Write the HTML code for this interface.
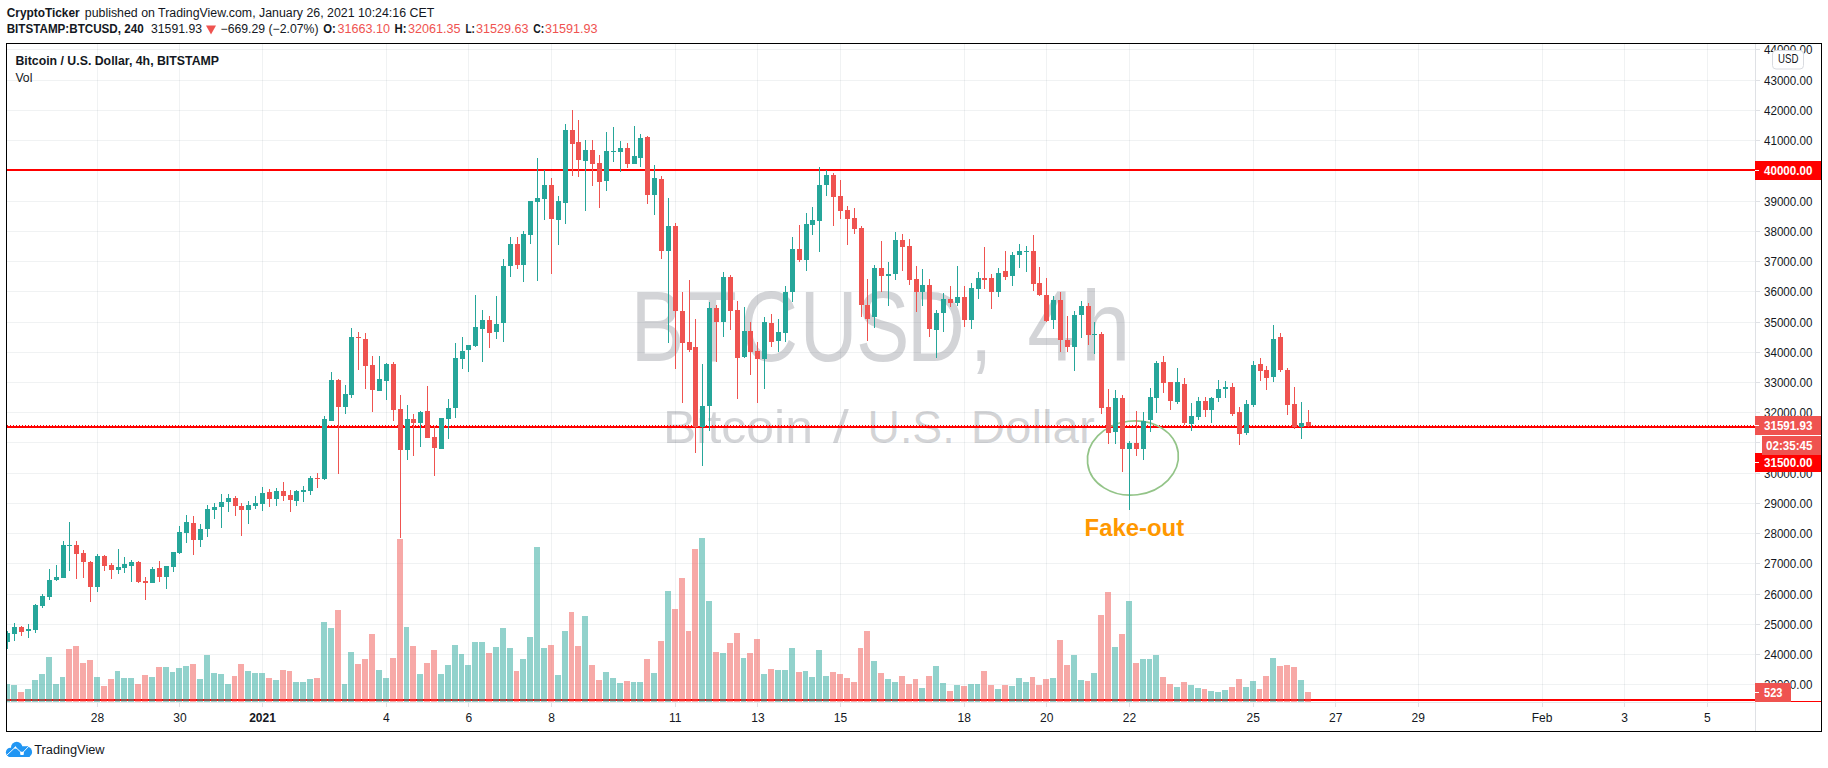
<!DOCTYPE html><html><head><meta charset="utf-8"><title>BTCUSD chart</title><style>html,body{margin:0;padding:0;background:#fff}svg{display:block}text{font-family:"Liberation Sans",sans-serif}</style></head><body>
<svg width="1828" height="768" viewBox="0 0 1828 768">
<rect width="1828" height="768" fill="#fff"/>
<g stroke="#1e3a46" stroke-opacity="0.065" stroke-width="1" shape-rendering="crispEdges">
<line x1="7" y1="684.5" x2="1755.5" y2="684.5"/>
<line x1="7" y1="654.5" x2="1755.5" y2="654.5"/>
<line x1="7" y1="624.5" x2="1755.5" y2="624.5"/>
<line x1="7" y1="594.5" x2="1755.5" y2="594.5"/>
<line x1="7" y1="563.5" x2="1755.5" y2="563.5"/>
<line x1="7" y1="533.5" x2="1755.5" y2="533.5"/>
<line x1="7" y1="503.5" x2="1755.5" y2="503.5"/>
<line x1="7" y1="473.5" x2="1755.5" y2="473.5"/>
<line x1="7" y1="442.5" x2="1755.5" y2="442.5"/>
<line x1="7" y1="412.5" x2="1755.5" y2="412.5"/>
<line x1="7" y1="382.5" x2="1755.5" y2="382.5"/>
<line x1="7" y1="352.5" x2="1755.5" y2="352.5"/>
<line x1="7" y1="322.5" x2="1755.5" y2="322.5"/>
<line x1="7" y1="291.5" x2="1755.5" y2="291.5"/>
<line x1="7" y1="261.5" x2="1755.5" y2="261.5"/>
<line x1="7" y1="231.5" x2="1755.5" y2="231.5"/>
<line x1="7" y1="201.5" x2="1755.5" y2="201.5"/>
<line x1="7" y1="170.5" x2="1755.5" y2="170.5"/>
<line x1="7" y1="140.5" x2="1755.5" y2="140.5"/>
<line x1="7" y1="110.5" x2="1755.5" y2="110.5"/>
<line x1="7" y1="80.5" x2="1755.5" y2="80.5"/>
<line x1="7" y1="49.5" x2="1755.5" y2="49.5"/>
<line x1="97.5" y1="44" x2="97.5" y2="703"/>
<line x1="179.5" y1="44" x2="179.5" y2="703"/>
<line x1="262.5" y1="44" x2="262.5" y2="703"/>
<line x1="386.5" y1="44" x2="386.5" y2="703"/>
<line x1="468.5" y1="44" x2="468.5" y2="703"/>
<line x1="551.5" y1="44" x2="551.5" y2="703"/>
<line x1="675.5" y1="44" x2="675.5" y2="703"/>
<line x1="757.5" y1="44" x2="757.5" y2="703"/>
<line x1="840.5" y1="44" x2="840.5" y2="703"/>
<line x1="964.5" y1="44" x2="964.5" y2="703"/>
<line x1="1046.5" y1="44" x2="1046.5" y2="703"/>
<line x1="1129.5" y1="44" x2="1129.5" y2="703"/>
<line x1="1253.5" y1="44" x2="1253.5" y2="703"/>
<line x1="1335.5" y1="44" x2="1335.5" y2="703"/>
<line x1="1418.5" y1="44" x2="1418.5" y2="703"/>
<line x1="1542.5" y1="44" x2="1542.5" y2="703"/>
<line x1="1624.5" y1="44" x2="1624.5" y2="703"/>
<line x1="1707.5" y1="44" x2="1707.5" y2="703"/>
</g>
<g fill="#50535e" fill-opacity="0.25">
<text transform="scale(0.8,1)" x="788.3 859.9 925.2 999.8 1070.1 1133.7 1212.6" y="360.8" font-size="100">BTCUSD,</text>
<text transform="scale(0.89,1)" x="1154.1 1214.6" y="360.8" font-size="100">4h</text>
<text x="663" y="443.3" font-size="46.5" textLength="150" lengthAdjust="spacingAndGlyphs">Bitcoin</text>
<text x="833" y="443.3" font-size="46.5" textLength="15.8" lengthAdjust="spacingAndGlyphs">/</text>
<text x="867.5" y="443.3" font-size="46.5" textLength="87.2" lengthAdjust="spacingAndGlyphs">U.S.</text>
<text x="970.7" y="443.3" font-size="46.5" textLength="124.1" lengthAdjust="spacingAndGlyphs">Dollar</text>
</g>
<rect x="7" y="699" width="1748.5" height="2" fill="#ff0000" shape-rendering="crispEdges"/>
<rect x="1755.5" y="701" width="66.5" height="1" fill="#ff0000" shape-rendering="crispEdges"/>
<g shape-rendering="crispEdges" fill-opacity="0.5">
<rect x="7" y="684" width="3" height="18" fill="#26a69a"/>
<rect x="11" y="685" width="6" height="17" fill="#26a69a"/>
<rect x="18" y="692" width="6" height="10" fill="#ef5350"/>
<rect x="25" y="689" width="6" height="13" fill="#26a69a"/>
<rect x="32" y="680" width="6" height="22" fill="#26a69a"/>
<rect x="39" y="674" width="6" height="28" fill="#26a69a"/>
<rect x="46" y="657" width="6" height="45" fill="#26a69a"/>
<rect x="53" y="684" width="6" height="18" fill="#26a69a"/>
<rect x="60" y="677" width="5" height="25" fill="#26a69a"/>
<rect x="66" y="649" width="6" height="53" fill="#ef5350"/>
<rect x="73" y="646" width="6" height="56" fill="#ef5350"/>
<rect x="80" y="663" width="6" height="39" fill="#ef5350"/>
<rect x="87" y="660" width="6" height="42" fill="#ef5350"/>
<rect x="94" y="677" width="6" height="25" fill="#26a69a"/>
<rect x="101" y="686" width="6" height="16" fill="#ef5350"/>
<rect x="108" y="679" width="6" height="23" fill="#ef5350"/>
<rect x="115" y="671" width="5" height="31" fill="#26a69a"/>
<rect x="121" y="678" width="6" height="24" fill="#26a69a"/>
<rect x="128" y="678" width="6" height="24" fill="#26a69a"/>
<rect x="135" y="684" width="6" height="18" fill="#ef5350"/>
<rect x="142" y="675" width="6" height="27" fill="#ef5350"/>
<rect x="149" y="677" width="6" height="25" fill="#26a69a"/>
<rect x="156" y="667" width="6" height="35" fill="#ef5350"/>
<rect x="163" y="667" width="6" height="35" fill="#26a69a"/>
<rect x="170" y="672" width="5" height="30" fill="#26a69a"/>
<rect x="176" y="668" width="6" height="34" fill="#26a69a"/>
<rect x="183" y="666" width="6" height="36" fill="#26a69a"/>
<rect x="190" y="664" width="6" height="38" fill="#ef5350"/>
<rect x="197" y="679" width="6" height="23" fill="#26a69a"/>
<rect x="204" y="655" width="6" height="47" fill="#26a69a"/>
<rect x="211" y="673" width="6" height="29" fill="#26a69a"/>
<rect x="218" y="674" width="6" height="28" fill="#26a69a"/>
<rect x="225" y="684" width="6" height="18" fill="#26a69a"/>
<rect x="232" y="676" width="5" height="26" fill="#ef5350"/>
<rect x="238" y="664" width="6" height="38" fill="#ef5350"/>
<rect x="245" y="671" width="6" height="31" fill="#26a69a"/>
<rect x="252" y="673" width="6" height="29" fill="#26a69a"/>
<rect x="259" y="673" width="6" height="29" fill="#26a69a"/>
<rect x="266" y="678" width="6" height="24" fill="#ef5350"/>
<rect x="273" y="680" width="6" height="22" fill="#26a69a"/>
<rect x="280" y="670" width="6" height="32" fill="#ef5350"/>
<rect x="287" y="671" width="5" height="31" fill="#ef5350"/>
<rect x="293" y="682" width="6" height="20" fill="#26a69a"/>
<rect x="300" y="682" width="6" height="20" fill="#26a69a"/>
<rect x="307" y="679" width="6" height="23" fill="#26a69a"/>
<rect x="314" y="678" width="6" height="24" fill="#ef5350"/>
<rect x="321" y="622" width="6" height="80" fill="#26a69a"/>
<rect x="328" y="628" width="6" height="74" fill="#26a69a"/>
<rect x="335" y="610" width="6" height="92" fill="#ef5350"/>
<rect x="342" y="684" width="5" height="18" fill="#26a69a"/>
<rect x="348" y="652" width="6" height="50" fill="#26a69a"/>
<rect x="355" y="664" width="6" height="38" fill="#ef5350"/>
<rect x="362" y="659" width="6" height="43" fill="#ef5350"/>
<rect x="369" y="634" width="6" height="68" fill="#ef5350"/>
<rect x="376" y="670" width="6" height="32" fill="#26a69a"/>
<rect x="383" y="678" width="6" height="24" fill="#26a69a"/>
<rect x="390" y="658" width="6" height="44" fill="#ef5350"/>
<rect x="397" y="539" width="6" height="163" fill="#ef5350"/>
<rect x="404" y="627" width="5" height="75" fill="#26a69a"/>
<rect x="410" y="646" width="6" height="56" fill="#ef5350"/>
<rect x="417" y="674" width="6" height="28" fill="#26a69a"/>
<rect x="424" y="663" width="6" height="39" fill="#ef5350"/>
<rect x="431" y="650" width="6" height="52" fill="#ef5350"/>
<rect x="438" y="674" width="6" height="28" fill="#26a69a"/>
<rect x="445" y="665" width="6" height="37" fill="#26a69a"/>
<rect x="452" y="645" width="6" height="57" fill="#26a69a"/>
<rect x="459" y="654" width="5" height="48" fill="#26a69a"/>
<rect x="465" y="665" width="6" height="37" fill="#26a69a"/>
<rect x="472" y="642" width="6" height="60" fill="#26a69a"/>
<rect x="479" y="642" width="6" height="60" fill="#26a69a"/>
<rect x="486" y="653" width="6" height="49" fill="#ef5350"/>
<rect x="493" y="647" width="6" height="55" fill="#26a69a"/>
<rect x="500" y="628" width="6" height="74" fill="#26a69a"/>
<rect x="507" y="648" width="6" height="54" fill="#26a69a"/>
<rect x="514" y="671" width="5" height="31" fill="#ef5350"/>
<rect x="520" y="659" width="6" height="43" fill="#26a69a"/>
<rect x="527" y="637" width="6" height="65" fill="#26a69a"/>
<rect x="534" y="547" width="6" height="155" fill="#26a69a"/>
<rect x="541" y="648" width="6" height="54" fill="#26a69a"/>
<rect x="548" y="645" width="6" height="57" fill="#ef5350"/>
<rect x="555" y="675" width="6" height="27" fill="#26a69a"/>
<rect x="562" y="631" width="6" height="71" fill="#26a69a"/>
<rect x="569" y="612" width="5" height="90" fill="#ef5350"/>
<rect x="575" y="646" width="6" height="56" fill="#ef5350"/>
<rect x="582" y="616" width="6" height="86" fill="#26a69a"/>
<rect x="589" y="665" width="6" height="37" fill="#ef5350"/>
<rect x="596" y="680" width="6" height="22" fill="#ef5350"/>
<rect x="603" y="672" width="6" height="30" fill="#26a69a"/>
<rect x="610" y="678" width="6" height="24" fill="#26a69a"/>
<rect x="617" y="683" width="6" height="19" fill="#26a69a"/>
<rect x="624" y="681" width="6" height="21" fill="#ef5350"/>
<rect x="631" y="682" width="5" height="20" fill="#26a69a"/>
<rect x="637" y="682" width="6" height="20" fill="#26a69a"/>
<rect x="644" y="659" width="6" height="43" fill="#ef5350"/>
<rect x="651" y="673" width="6" height="29" fill="#26a69a"/>
<rect x="658" y="641" width="6" height="61" fill="#ef5350"/>
<rect x="665" y="591" width="6" height="111" fill="#26a69a"/>
<rect x="672" y="609" width="6" height="93" fill="#ef5350"/>
<rect x="679" y="578" width="6" height="124" fill="#ef5350"/>
<rect x="686" y="631" width="5" height="71" fill="#ef5350"/>
<rect x="692" y="549" width="6" height="153" fill="#ef5350"/>
<rect x="699" y="538" width="6" height="164" fill="#26a69a"/>
<rect x="706" y="601" width="6" height="101" fill="#26a69a"/>
<rect x="713" y="652" width="6" height="50" fill="#ef5350"/>
<rect x="720" y="653" width="6" height="49" fill="#26a69a"/>
<rect x="727" y="643" width="6" height="59" fill="#ef5350"/>
<rect x="734" y="633" width="6" height="69" fill="#ef5350"/>
<rect x="741" y="658" width="5" height="44" fill="#26a69a"/>
<rect x="747" y="653" width="6" height="49" fill="#ef5350"/>
<rect x="754" y="639" width="6" height="63" fill="#ef5350"/>
<rect x="761" y="674" width="6" height="28" fill="#26a69a"/>
<rect x="768" y="669" width="6" height="33" fill="#ef5350"/>
<rect x="775" y="670" width="6" height="32" fill="#26a69a"/>
<rect x="782" y="670" width="6" height="32" fill="#26a69a"/>
<rect x="789" y="648" width="6" height="54" fill="#26a69a"/>
<rect x="796" y="672" width="6" height="30" fill="#ef5350"/>
<rect x="803" y="671" width="5" height="31" fill="#26a69a"/>
<rect x="809" y="677" width="6" height="25" fill="#26a69a"/>
<rect x="816" y="650" width="6" height="52" fill="#26a69a"/>
<rect x="823" y="676" width="6" height="26" fill="#26a69a"/>
<rect x="830" y="672" width="6" height="30" fill="#ef5350"/>
<rect x="837" y="674" width="6" height="28" fill="#ef5350"/>
<rect x="844" y="678" width="6" height="24" fill="#ef5350"/>
<rect x="851" y="682" width="6" height="20" fill="#ef5350"/>
<rect x="858" y="648" width="5" height="54" fill="#ef5350"/>
<rect x="864" y="631" width="6" height="71" fill="#ef5350"/>
<rect x="871" y="661" width="6" height="41" fill="#26a69a"/>
<rect x="878" y="673" width="6" height="29" fill="#ef5350"/>
<rect x="885" y="679" width="6" height="23" fill="#26a69a"/>
<rect x="892" y="682" width="6" height="20" fill="#26a69a"/>
<rect x="899" y="676" width="6" height="26" fill="#ef5350"/>
<rect x="906" y="684" width="6" height="18" fill="#ef5350"/>
<rect x="913" y="679" width="5" height="23" fill="#ef5350"/>
<rect x="919" y="688" width="6" height="14" fill="#26a69a"/>
<rect x="926" y="676" width="6" height="26" fill="#ef5350"/>
<rect x="933" y="666" width="6" height="36" fill="#26a69a"/>
<rect x="940" y="683" width="6" height="19" fill="#26a69a"/>
<rect x="947" y="691" width="6" height="11" fill="#ef5350"/>
<rect x="954" y="685" width="6" height="17" fill="#26a69a"/>
<rect x="961" y="686" width="6" height="16" fill="#ef5350"/>
<rect x="968" y="684" width="6" height="18" fill="#26a69a"/>
<rect x="975" y="684" width="5" height="18" fill="#26a69a"/>
<rect x="981" y="671" width="6" height="31" fill="#ef5350"/>
<rect x="988" y="685" width="6" height="17" fill="#ef5350"/>
<rect x="995" y="689" width="6" height="13" fill="#26a69a"/>
<rect x="1002" y="685" width="6" height="17" fill="#ef5350"/>
<rect x="1009" y="686" width="6" height="16" fill="#26a69a"/>
<rect x="1016" y="678" width="6" height="24" fill="#26a69a"/>
<rect x="1023" y="682" width="6" height="20" fill="#26a69a"/>
<rect x="1030" y="677" width="5" height="25" fill="#ef5350"/>
<rect x="1036" y="685" width="6" height="17" fill="#ef5350"/>
<rect x="1043" y="679" width="6" height="23" fill="#ef5350"/>
<rect x="1050" y="678" width="6" height="24" fill="#26a69a"/>
<rect x="1057" y="640" width="6" height="62" fill="#ef5350"/>
<rect x="1064" y="665" width="6" height="37" fill="#ef5350"/>
<rect x="1071" y="655" width="6" height="47" fill="#26a69a"/>
<rect x="1078" y="680" width="6" height="22" fill="#26a69a"/>
<rect x="1085" y="681" width="5" height="21" fill="#ef5350"/>
<rect x="1091" y="673" width="6" height="29" fill="#26a69a"/>
<rect x="1098" y="615" width="6" height="87" fill="#ef5350"/>
<rect x="1105" y="592" width="6" height="110" fill="#ef5350"/>
<rect x="1112" y="647" width="6" height="55" fill="#26a69a"/>
<rect x="1119" y="634" width="6" height="68" fill="#ef5350"/>
<rect x="1126" y="601" width="6" height="101" fill="#26a69a"/>
<rect x="1133" y="663" width="6" height="39" fill="#ef5350"/>
<rect x="1140" y="659" width="6" height="43" fill="#26a69a"/>
<rect x="1147" y="659" width="5" height="43" fill="#26a69a"/>
<rect x="1153" y="655" width="6" height="47" fill="#26a69a"/>
<rect x="1160" y="677" width="6" height="25" fill="#ef5350"/>
<rect x="1167" y="684" width="6" height="18" fill="#ef5350"/>
<rect x="1174" y="687" width="6" height="15" fill="#26a69a"/>
<rect x="1181" y="682" width="6" height="20" fill="#ef5350"/>
<rect x="1188" y="685" width="6" height="17" fill="#26a69a"/>
<rect x="1195" y="688" width="6" height="14" fill="#26a69a"/>
<rect x="1202" y="689" width="5" height="13" fill="#ef5350"/>
<rect x="1208" y="691" width="6" height="11" fill="#26a69a"/>
<rect x="1215" y="692" width="6" height="10" fill="#26a69a"/>
<rect x="1222" y="690" width="6" height="12" fill="#26a69a"/>
<rect x="1229" y="687" width="6" height="15" fill="#ef5350"/>
<rect x="1236" y="679" width="6" height="23" fill="#ef5350"/>
<rect x="1243" y="687" width="6" height="15" fill="#26a69a"/>
<rect x="1250" y="681" width="6" height="21" fill="#26a69a"/>
<rect x="1257" y="689" width="5" height="13" fill="#ef5350"/>
<rect x="1263" y="676" width="6" height="26" fill="#ef5350"/>
<rect x="1270" y="658" width="6" height="44" fill="#26a69a"/>
<rect x="1277" y="666" width="6" height="36" fill="#ef5350"/>
<rect x="1284" y="665" width="6" height="37" fill="#ef5350"/>
<rect x="1291" y="667" width="6" height="35" fill="#ef5350"/>
<rect x="1298" y="680" width="6" height="22" fill="#26a69a"/>
<rect x="1305" y="692" width="6" height="10" fill="#ef5350"/>
</g>
<rect x="7" y="169" width="1748.5" height="2" fill="#ff0000" shape-rendering="crispEdges"/>
<rect x="7" y="426" width="1748.5" height="2" fill="#ff0000" shape-rendering="crispEdges"/>
<line x1="7" y1="425.5" x2="1755" y2="425.5" stroke="#ff0000" stroke-width="1" stroke-dasharray="1 2" shape-rendering="crispEdges"/>
<ellipse cx="1132.9" cy="458" rx="45.6" ry="37" fill="none" stroke="#93c488" stroke-width="1.7" transform="rotate(-7 1132.9 458)"/>
<g shape-rendering="crispEdges">
<rect x="7" y="631" width="1" height="18" fill="#26a69a"/>
<rect x="7" y="633" width="3" height="9" fill="#26a69a"/>
<rect x="14" y="623" width="1" height="18" fill="#26a69a"/>
<rect x="12" y="627" width="5" height="7" fill="#26a69a"/>
<rect x="21" y="626" width="1" height="10" fill="#ef5350"/>
<rect x="19" y="627" width="5" height="5" fill="#ef5350"/>
<rect x="28" y="624" width="1" height="14" fill="#26a69a"/>
<rect x="26" y="629" width="5" height="2" fill="#26a69a"/>
<rect x="35" y="604" width="1" height="29" fill="#26a69a"/>
<rect x="33" y="605" width="5" height="25" fill="#26a69a"/>
<rect x="42" y="594" width="1" height="14" fill="#26a69a"/>
<rect x="40" y="596" width="5" height="10" fill="#26a69a"/>
<rect x="49" y="569" width="1" height="31" fill="#26a69a"/>
<rect x="47" y="580" width="5" height="17" fill="#26a69a"/>
<rect x="56" y="565" width="1" height="16" fill="#26a69a"/>
<rect x="54" y="577" width="5" height="3" fill="#26a69a"/>
<rect x="63" y="541" width="1" height="37" fill="#26a69a"/>
<rect x="61" y="545" width="5" height="33" fill="#26a69a"/>
<rect x="69" y="522" width="1" height="49" fill="#26a69a"/>
<rect x="67" y="545" width="5" height="1" fill="#26a69a"/>
<rect x="76" y="541" width="1" height="38" fill="#ef5350"/>
<rect x="74" y="545" width="5" height="9" fill="#ef5350"/>
<rect x="83" y="550" width="1" height="28" fill="#ef5350"/>
<rect x="81" y="553" width="5" height="9" fill="#ef5350"/>
<rect x="90" y="561" width="1" height="41" fill="#ef5350"/>
<rect x="88" y="562" width="5" height="25" fill="#ef5350"/>
<rect x="97" y="554" width="1" height="38" fill="#26a69a"/>
<rect x="95" y="556" width="5" height="31" fill="#26a69a"/>
<rect x="104" y="555" width="1" height="16" fill="#ef5350"/>
<rect x="102" y="556" width="5" height="10" fill="#ef5350"/>
<rect x="111" y="563" width="1" height="16" fill="#ef5350"/>
<rect x="109" y="565" width="5" height="5" fill="#ef5350"/>
<rect x="118" y="549" width="1" height="25" fill="#26a69a"/>
<rect x="116" y="567" width="5" height="3" fill="#26a69a"/>
<rect x="124" y="557" width="1" height="16" fill="#26a69a"/>
<rect x="122" y="564" width="5" height="4" fill="#26a69a"/>
<rect x="131" y="560" width="1" height="22" fill="#26a69a"/>
<rect x="129" y="562" width="5" height="4" fill="#26a69a"/>
<rect x="138" y="561" width="1" height="22" fill="#ef5350"/>
<rect x="136" y="562" width="5" height="20" fill="#ef5350"/>
<rect x="145" y="577" width="1" height="23" fill="#ef5350"/>
<rect x="143" y="581" width="5" height="2" fill="#ef5350"/>
<rect x="152" y="567" width="1" height="16" fill="#26a69a"/>
<rect x="150" y="569" width="5" height="14" fill="#26a69a"/>
<rect x="159" y="561" width="1" height="21" fill="#ef5350"/>
<rect x="157" y="568" width="5" height="9" fill="#ef5350"/>
<rect x="166" y="566" width="1" height="23" fill="#26a69a"/>
<rect x="164" y="566" width="5" height="11" fill="#26a69a"/>
<rect x="173" y="552" width="1" height="20" fill="#26a69a"/>
<rect x="171" y="552" width="5" height="15" fill="#26a69a"/>
<rect x="179" y="526" width="1" height="28" fill="#26a69a"/>
<rect x="177" y="532" width="5" height="21" fill="#26a69a"/>
<rect x="186" y="515" width="1" height="28" fill="#26a69a"/>
<rect x="184" y="522" width="5" height="11" fill="#26a69a"/>
<rect x="193" y="516" width="1" height="39" fill="#ef5350"/>
<rect x="191" y="523" width="5" height="17" fill="#ef5350"/>
<rect x="200" y="524" width="1" height="23" fill="#26a69a"/>
<rect x="198" y="529" width="5" height="11" fill="#26a69a"/>
<rect x="207" y="505" width="1" height="32" fill="#26a69a"/>
<rect x="205" y="509" width="5" height="20" fill="#26a69a"/>
<rect x="214" y="503" width="1" height="16" fill="#26a69a"/>
<rect x="212" y="507" width="5" height="3" fill="#26a69a"/>
<rect x="221" y="494" width="1" height="34" fill="#26a69a"/>
<rect x="219" y="502" width="5" height="5" fill="#26a69a"/>
<rect x="228" y="494" width="1" height="18" fill="#26a69a"/>
<rect x="226" y="498" width="5" height="4" fill="#26a69a"/>
<rect x="235" y="496" width="1" height="20" fill="#ef5350"/>
<rect x="233" y="498" width="5" height="8" fill="#ef5350"/>
<rect x="241" y="503" width="1" height="33" fill="#ef5350"/>
<rect x="239" y="506" width="5" height="4" fill="#ef5350"/>
<rect x="248" y="501" width="1" height="23" fill="#26a69a"/>
<rect x="246" y="505" width="5" height="5" fill="#26a69a"/>
<rect x="255" y="496" width="1" height="13" fill="#26a69a"/>
<rect x="253" y="503" width="5" height="3" fill="#26a69a"/>
<rect x="262" y="487" width="1" height="24" fill="#26a69a"/>
<rect x="260" y="493" width="5" height="11" fill="#26a69a"/>
<rect x="269" y="489" width="1" height="18" fill="#ef5350"/>
<rect x="267" y="492" width="5" height="7" fill="#ef5350"/>
<rect x="276" y="488" width="1" height="18" fill="#26a69a"/>
<rect x="274" y="491" width="5" height="8" fill="#26a69a"/>
<rect x="283" y="482" width="1" height="19" fill="#ef5350"/>
<rect x="281" y="491" width="5" height="5" fill="#ef5350"/>
<rect x="290" y="490" width="1" height="22" fill="#ef5350"/>
<rect x="288" y="495" width="5" height="5" fill="#ef5350"/>
<rect x="296" y="490" width="1" height="16" fill="#26a69a"/>
<rect x="294" y="491" width="5" height="10" fill="#26a69a"/>
<rect x="303" y="486" width="1" height="16" fill="#26a69a"/>
<rect x="301" y="490" width="5" height="2" fill="#26a69a"/>
<rect x="310" y="476" width="1" height="19" fill="#26a69a"/>
<rect x="308" y="478" width="5" height="13" fill="#26a69a"/>
<rect x="317" y="473" width="1" height="15" fill="#ef5350"/>
<rect x="315" y="478" width="5" height="1" fill="#ef5350"/>
<rect x="324" y="416" width="1" height="64" fill="#26a69a"/>
<rect x="322" y="419" width="5" height="60" fill="#26a69a"/>
<rect x="331" y="372" width="1" height="49" fill="#26a69a"/>
<rect x="329" y="380" width="5" height="41" fill="#26a69a"/>
<rect x="338" y="379" width="1" height="95" fill="#ef5350"/>
<rect x="336" y="380" width="5" height="27" fill="#ef5350"/>
<rect x="345" y="385" width="1" height="29" fill="#26a69a"/>
<rect x="343" y="394" width="5" height="13" fill="#26a69a"/>
<rect x="351" y="328" width="1" height="70" fill="#26a69a"/>
<rect x="349" y="337" width="5" height="58" fill="#26a69a"/>
<rect x="358" y="332" width="1" height="38" fill="#ef5350"/>
<rect x="356" y="337" width="5" height="1" fill="#ef5350"/>
<rect x="365" y="333" width="1" height="56" fill="#ef5350"/>
<rect x="363" y="339" width="5" height="27" fill="#ef5350"/>
<rect x="372" y="356" width="1" height="56" fill="#ef5350"/>
<rect x="370" y="365" width="5" height="25" fill="#ef5350"/>
<rect x="379" y="356" width="1" height="35" fill="#26a69a"/>
<rect x="377" y="379" width="5" height="12" fill="#26a69a"/>
<rect x="386" y="363" width="1" height="37" fill="#26a69a"/>
<rect x="384" y="364" width="5" height="17" fill="#26a69a"/>
<rect x="393" y="362" width="1" height="59" fill="#ef5350"/>
<rect x="391" y="364" width="5" height="46" fill="#ef5350"/>
<rect x="400" y="395" width="1" height="143" fill="#ef5350"/>
<rect x="398" y="409" width="5" height="41" fill="#ef5350"/>
<rect x="407" y="405" width="1" height="55" fill="#26a69a"/>
<rect x="405" y="419" width="5" height="31" fill="#26a69a"/>
<rect x="413" y="414" width="1" height="42" fill="#ef5350"/>
<rect x="411" y="419" width="5" height="4" fill="#ef5350"/>
<rect x="420" y="411" width="1" height="36" fill="#26a69a"/>
<rect x="418" y="412" width="5" height="11" fill="#26a69a"/>
<rect x="427" y="386" width="1" height="52" fill="#ef5350"/>
<rect x="425" y="411" width="5" height="27" fill="#ef5350"/>
<rect x="434" y="426" width="1" height="50" fill="#ef5350"/>
<rect x="432" y="437" width="5" height="11" fill="#ef5350"/>
<rect x="441" y="418" width="1" height="31" fill="#26a69a"/>
<rect x="439" y="418" width="5" height="31" fill="#26a69a"/>
<rect x="448" y="399" width="1" height="40" fill="#26a69a"/>
<rect x="446" y="408" width="5" height="11" fill="#26a69a"/>
<rect x="455" y="343" width="1" height="75" fill="#26a69a"/>
<rect x="453" y="358" width="5" height="50" fill="#26a69a"/>
<rect x="462" y="337" width="1" height="32" fill="#26a69a"/>
<rect x="460" y="351" width="5" height="8" fill="#26a69a"/>
<rect x="468" y="345" width="1" height="27" fill="#26a69a"/>
<rect x="466" y="345" width="5" height="5" fill="#26a69a"/>
<rect x="475" y="295" width="1" height="52" fill="#26a69a"/>
<rect x="473" y="327" width="5" height="19" fill="#26a69a"/>
<rect x="482" y="310" width="1" height="52" fill="#26a69a"/>
<rect x="480" y="320" width="5" height="9" fill="#26a69a"/>
<rect x="489" y="316" width="1" height="32" fill="#ef5350"/>
<rect x="487" y="320" width="5" height="13" fill="#ef5350"/>
<rect x="496" y="296" width="1" height="43" fill="#26a69a"/>
<rect x="494" y="324" width="5" height="8" fill="#26a69a"/>
<rect x="503" y="259" width="1" height="83" fill="#26a69a"/>
<rect x="501" y="266" width="5" height="57" fill="#26a69a"/>
<rect x="510" y="237" width="1" height="40" fill="#26a69a"/>
<rect x="508" y="244" width="5" height="22" fill="#26a69a"/>
<rect x="517" y="237" width="1" height="32" fill="#ef5350"/>
<rect x="515" y="244" width="5" height="21" fill="#ef5350"/>
<rect x="523" y="231" width="1" height="51" fill="#26a69a"/>
<rect x="521" y="234" width="5" height="31" fill="#26a69a"/>
<rect x="530" y="201" width="1" height="43" fill="#26a69a"/>
<rect x="528" y="201" width="5" height="34" fill="#26a69a"/>
<rect x="537" y="158" width="1" height="123" fill="#26a69a"/>
<rect x="535" y="198" width="5" height="4" fill="#26a69a"/>
<rect x="544" y="170" width="1" height="50" fill="#26a69a"/>
<rect x="542" y="185" width="5" height="14" fill="#26a69a"/>
<rect x="551" y="178" width="1" height="96" fill="#ef5350"/>
<rect x="549" y="185" width="5" height="34" fill="#ef5350"/>
<rect x="558" y="196" width="1" height="49" fill="#26a69a"/>
<rect x="556" y="201" width="5" height="19" fill="#26a69a"/>
<rect x="565" y="124" width="1" height="100" fill="#26a69a"/>
<rect x="563" y="130" width="5" height="73" fill="#26a69a"/>
<rect x="572" y="110" width="1" height="66" fill="#ef5350"/>
<rect x="570" y="130" width="5" height="14" fill="#ef5350"/>
<rect x="578" y="120" width="1" height="57" fill="#ef5350"/>
<rect x="576" y="142" width="5" height="18" fill="#ef5350"/>
<rect x="585" y="140" width="1" height="71" fill="#26a69a"/>
<rect x="583" y="150" width="5" height="11" fill="#26a69a"/>
<rect x="592" y="140" width="1" height="46" fill="#ef5350"/>
<rect x="590" y="150" width="5" height="14" fill="#ef5350"/>
<rect x="599" y="155" width="1" height="53" fill="#ef5350"/>
<rect x="597" y="163" width="5" height="19" fill="#ef5350"/>
<rect x="606" y="132" width="1" height="59" fill="#26a69a"/>
<rect x="604" y="151" width="5" height="30" fill="#26a69a"/>
<rect x="613" y="127" width="1" height="35" fill="#26a69a"/>
<rect x="611" y="151" width="5" height="1" fill="#26a69a"/>
<rect x="620" y="141" width="1" height="31" fill="#26a69a"/>
<rect x="618" y="148" width="5" height="4" fill="#26a69a"/>
<rect x="627" y="143" width="1" height="25" fill="#ef5350"/>
<rect x="625" y="148" width="5" height="16" fill="#ef5350"/>
<rect x="634" y="126" width="1" height="38" fill="#26a69a"/>
<rect x="632" y="156" width="5" height="8" fill="#26a69a"/>
<rect x="640" y="134" width="1" height="33" fill="#26a69a"/>
<rect x="638" y="138" width="5" height="20" fill="#26a69a"/>
<rect x="647" y="136" width="1" height="68" fill="#ef5350"/>
<rect x="645" y="137" width="5" height="58" fill="#ef5350"/>
<rect x="654" y="165" width="1" height="50" fill="#26a69a"/>
<rect x="652" y="178" width="5" height="17" fill="#26a69a"/>
<rect x="661" y="176" width="1" height="83" fill="#ef5350"/>
<rect x="659" y="179" width="5" height="72" fill="#ef5350"/>
<rect x="668" y="198" width="1" height="145" fill="#26a69a"/>
<rect x="666" y="226" width="5" height="25" fill="#26a69a"/>
<rect x="675" y="223" width="1" height="146" fill="#ef5350"/>
<rect x="673" y="226" width="5" height="85" fill="#ef5350"/>
<rect x="682" y="292" width="1" height="111" fill="#ef5350"/>
<rect x="680" y="311" width="5" height="32" fill="#ef5350"/>
<rect x="689" y="280" width="1" height="72" fill="#ef5350"/>
<rect x="687" y="342" width="5" height="8" fill="#ef5350"/>
<rect x="695" y="319" width="1" height="134" fill="#ef5350"/>
<rect x="693" y="347" width="5" height="80" fill="#ef5350"/>
<rect x="702" y="364" width="1" height="102" fill="#26a69a"/>
<rect x="700" y="406" width="5" height="21" fill="#26a69a"/>
<rect x="709" y="302" width="1" height="129" fill="#26a69a"/>
<rect x="707" y="308" width="5" height="98" fill="#26a69a"/>
<rect x="716" y="305" width="1" height="57" fill="#ef5350"/>
<rect x="714" y="308" width="5" height="14" fill="#ef5350"/>
<rect x="723" y="272" width="1" height="65" fill="#26a69a"/>
<rect x="721" y="277" width="5" height="45" fill="#26a69a"/>
<rect x="730" y="275" width="1" height="55" fill="#ef5350"/>
<rect x="728" y="277" width="5" height="34" fill="#ef5350"/>
<rect x="737" y="301" width="1" height="98" fill="#ef5350"/>
<rect x="735" y="310" width="5" height="48" fill="#ef5350"/>
<rect x="744" y="307" width="1" height="51" fill="#26a69a"/>
<rect x="742" y="331" width="5" height="26" fill="#26a69a"/>
<rect x="750" y="322" width="1" height="53" fill="#ef5350"/>
<rect x="748" y="331" width="5" height="21" fill="#ef5350"/>
<rect x="757" y="342" width="1" height="61" fill="#ef5350"/>
<rect x="755" y="351" width="5" height="8" fill="#ef5350"/>
<rect x="764" y="317" width="1" height="72" fill="#26a69a"/>
<rect x="762" y="322" width="5" height="37" fill="#26a69a"/>
<rect x="771" y="314" width="1" height="33" fill="#ef5350"/>
<rect x="769" y="323" width="5" height="19" fill="#ef5350"/>
<rect x="778" y="319" width="1" height="33" fill="#26a69a"/>
<rect x="776" y="332" width="5" height="9" fill="#26a69a"/>
<rect x="785" y="286" width="1" height="56" fill="#26a69a"/>
<rect x="783" y="292" width="5" height="41" fill="#26a69a"/>
<rect x="792" y="237" width="1" height="65" fill="#26a69a"/>
<rect x="790" y="249" width="5" height="43" fill="#26a69a"/>
<rect x="799" y="225" width="1" height="37" fill="#ef5350"/>
<rect x="797" y="249" width="5" height="11" fill="#ef5350"/>
<rect x="806" y="213" width="1" height="58" fill="#26a69a"/>
<rect x="804" y="224" width="5" height="36" fill="#26a69a"/>
<rect x="812" y="207" width="1" height="28" fill="#26a69a"/>
<rect x="810" y="220" width="5" height="5" fill="#26a69a"/>
<rect x="819" y="167" width="1" height="85" fill="#26a69a"/>
<rect x="817" y="185" width="5" height="36" fill="#26a69a"/>
<rect x="826" y="170" width="1" height="26" fill="#26a69a"/>
<rect x="824" y="175" width="5" height="10" fill="#26a69a"/>
<rect x="833" y="173" width="1" height="53" fill="#ef5350"/>
<rect x="831" y="175" width="5" height="22" fill="#ef5350"/>
<rect x="840" y="180" width="1" height="39" fill="#ef5350"/>
<rect x="838" y="196" width="5" height="15" fill="#ef5350"/>
<rect x="847" y="206" width="1" height="39" fill="#ef5350"/>
<rect x="845" y="210" width="5" height="9" fill="#ef5350"/>
<rect x="854" y="208" width="1" height="26" fill="#ef5350"/>
<rect x="852" y="218" width="5" height="11" fill="#ef5350"/>
<rect x="861" y="226" width="1" height="91" fill="#ef5350"/>
<rect x="859" y="228" width="5" height="77" fill="#ef5350"/>
<rect x="867" y="279" width="1" height="62" fill="#ef5350"/>
<rect x="865" y="305" width="5" height="14" fill="#ef5350"/>
<rect x="874" y="265" width="1" height="63" fill="#26a69a"/>
<rect x="872" y="268" width="5" height="49" fill="#26a69a"/>
<rect x="881" y="241" width="1" height="51" fill="#ef5350"/>
<rect x="879" y="268" width="5" height="8" fill="#ef5350"/>
<rect x="888" y="262" width="1" height="44" fill="#26a69a"/>
<rect x="886" y="274" width="5" height="2" fill="#26a69a"/>
<rect x="895" y="232" width="1" height="48" fill="#26a69a"/>
<rect x="893" y="240" width="5" height="34" fill="#26a69a"/>
<rect x="902" y="234" width="1" height="37" fill="#ef5350"/>
<rect x="900" y="240" width="5" height="7" fill="#ef5350"/>
<rect x="909" y="239" width="1" height="46" fill="#ef5350"/>
<rect x="907" y="246" width="5" height="34" fill="#ef5350"/>
<rect x="916" y="266" width="1" height="46" fill="#ef5350"/>
<rect x="914" y="279" width="5" height="13" fill="#ef5350"/>
<rect x="922" y="269" width="1" height="37" fill="#26a69a"/>
<rect x="920" y="285" width="5" height="7" fill="#26a69a"/>
<rect x="929" y="279" width="1" height="58" fill="#ef5350"/>
<rect x="927" y="285" width="5" height="44" fill="#ef5350"/>
<rect x="936" y="310" width="1" height="48" fill="#26a69a"/>
<rect x="934" y="313" width="5" height="17" fill="#26a69a"/>
<rect x="943" y="293" width="1" height="39" fill="#26a69a"/>
<rect x="941" y="299" width="5" height="14" fill="#26a69a"/>
<rect x="950" y="286" width="1" height="21" fill="#ef5350"/>
<rect x="948" y="299" width="5" height="4" fill="#ef5350"/>
<rect x="957" y="266" width="1" height="40" fill="#26a69a"/>
<rect x="955" y="297" width="5" height="6" fill="#26a69a"/>
<rect x="964" y="286" width="1" height="41" fill="#ef5350"/>
<rect x="962" y="297" width="5" height="23" fill="#ef5350"/>
<rect x="971" y="283" width="1" height="46" fill="#26a69a"/>
<rect x="969" y="288" width="5" height="32" fill="#26a69a"/>
<rect x="978" y="272" width="1" height="27" fill="#26a69a"/>
<rect x="976" y="278" width="5" height="11" fill="#26a69a"/>
<rect x="984" y="247" width="1" height="42" fill="#ef5350"/>
<rect x="982" y="278" width="5" height="2" fill="#ef5350"/>
<rect x="991" y="274" width="1" height="35" fill="#ef5350"/>
<rect x="989" y="278" width="5" height="14" fill="#ef5350"/>
<rect x="998" y="268" width="1" height="29" fill="#26a69a"/>
<rect x="996" y="273" width="5" height="19" fill="#26a69a"/>
<rect x="1005" y="251" width="1" height="29" fill="#ef5350"/>
<rect x="1003" y="271" width="5" height="6" fill="#ef5350"/>
<rect x="1012" y="252" width="1" height="34" fill="#26a69a"/>
<rect x="1010" y="255" width="5" height="21" fill="#26a69a"/>
<rect x="1019" y="244" width="1" height="24" fill="#26a69a"/>
<rect x="1017" y="251" width="5" height="4" fill="#26a69a"/>
<rect x="1026" y="246" width="1" height="26" fill="#26a69a"/>
<rect x="1024" y="251" width="5" height="1" fill="#26a69a"/>
<rect x="1033" y="235" width="1" height="56" fill="#ef5350"/>
<rect x="1031" y="251" width="5" height="33" fill="#ef5350"/>
<rect x="1039" y="267" width="1" height="29" fill="#ef5350"/>
<rect x="1037" y="283" width="5" height="12" fill="#ef5350"/>
<rect x="1046" y="278" width="1" height="44" fill="#ef5350"/>
<rect x="1044" y="295" width="5" height="26" fill="#ef5350"/>
<rect x="1053" y="296" width="1" height="33" fill="#26a69a"/>
<rect x="1051" y="300" width="5" height="20" fill="#26a69a"/>
<rect x="1060" y="292" width="1" height="60" fill="#ef5350"/>
<rect x="1058" y="300" width="5" height="40" fill="#ef5350"/>
<rect x="1067" y="316" width="1" height="36" fill="#ef5350"/>
<rect x="1065" y="340" width="5" height="7" fill="#ef5350"/>
<rect x="1074" y="311" width="1" height="60" fill="#26a69a"/>
<rect x="1072" y="315" width="5" height="32" fill="#26a69a"/>
<rect x="1081" y="301" width="1" height="37" fill="#26a69a"/>
<rect x="1079" y="306" width="5" height="9" fill="#26a69a"/>
<rect x="1088" y="303" width="1" height="42" fill="#ef5350"/>
<rect x="1086" y="306" width="5" height="29" fill="#ef5350"/>
<rect x="1094" y="322" width="1" height="32" fill="#26a69a"/>
<rect x="1092" y="334" width="5" height="1" fill="#26a69a"/>
<rect x="1101" y="332" width="1" height="82" fill="#ef5350"/>
<rect x="1099" y="334" width="5" height="74" fill="#ef5350"/>
<rect x="1108" y="389" width="1" height="55" fill="#ef5350"/>
<rect x="1106" y="407" width="5" height="26" fill="#ef5350"/>
<rect x="1115" y="390" width="1" height="54" fill="#26a69a"/>
<rect x="1113" y="398" width="5" height="34" fill="#26a69a"/>
<rect x="1122" y="395" width="1" height="77" fill="#ef5350"/>
<rect x="1120" y="398" width="5" height="51" fill="#ef5350"/>
<rect x="1129" y="441" width="1" height="69" fill="#26a69a"/>
<rect x="1127" y="443" width="5" height="6" fill="#26a69a"/>
<rect x="1136" y="411" width="1" height="45" fill="#ef5350"/>
<rect x="1134" y="443" width="5" height="6" fill="#ef5350"/>
<rect x="1143" y="412" width="1" height="48" fill="#26a69a"/>
<rect x="1141" y="421" width="5" height="28" fill="#26a69a"/>
<rect x="1150" y="388" width="1" height="44" fill="#26a69a"/>
<rect x="1148" y="397" width="5" height="23" fill="#26a69a"/>
<rect x="1156" y="361" width="1" height="52" fill="#26a69a"/>
<rect x="1154" y="363" width="5" height="35" fill="#26a69a"/>
<rect x="1163" y="356" width="1" height="37" fill="#ef5350"/>
<rect x="1161" y="362" width="5" height="21" fill="#ef5350"/>
<rect x="1170" y="382" width="1" height="28" fill="#ef5350"/>
<rect x="1168" y="382" width="5" height="19" fill="#ef5350"/>
<rect x="1177" y="368" width="1" height="36" fill="#26a69a"/>
<rect x="1175" y="382" width="5" height="20" fill="#26a69a"/>
<rect x="1184" y="378" width="1" height="47" fill="#ef5350"/>
<rect x="1182" y="384" width="5" height="39" fill="#ef5350"/>
<rect x="1191" y="403" width="1" height="28" fill="#26a69a"/>
<rect x="1189" y="416" width="5" height="8" fill="#26a69a"/>
<rect x="1198" y="397" width="1" height="23" fill="#26a69a"/>
<rect x="1196" y="401" width="5" height="16" fill="#26a69a"/>
<rect x="1205" y="397" width="1" height="20" fill="#ef5350"/>
<rect x="1203" y="401" width="5" height="9" fill="#ef5350"/>
<rect x="1211" y="397" width="1" height="26" fill="#26a69a"/>
<rect x="1209" y="398" width="5" height="12" fill="#26a69a"/>
<rect x="1218" y="380" width="1" height="22" fill="#26a69a"/>
<rect x="1216" y="389" width="5" height="9" fill="#26a69a"/>
<rect x="1225" y="381" width="1" height="17" fill="#26a69a"/>
<rect x="1223" y="387" width="5" height="2" fill="#26a69a"/>
<rect x="1232" y="383" width="1" height="33" fill="#ef5350"/>
<rect x="1230" y="387" width="5" height="27" fill="#ef5350"/>
<rect x="1239" y="407" width="1" height="38" fill="#ef5350"/>
<rect x="1237" y="412" width="5" height="22" fill="#ef5350"/>
<rect x="1246" y="400" width="1" height="35" fill="#26a69a"/>
<rect x="1244" y="404" width="5" height="29" fill="#26a69a"/>
<rect x="1253" y="361" width="1" height="46" fill="#26a69a"/>
<rect x="1251" y="365" width="5" height="40" fill="#26a69a"/>
<rect x="1260" y="358" width="1" height="23" fill="#ef5350"/>
<rect x="1258" y="364" width="5" height="7" fill="#ef5350"/>
<rect x="1266" y="366" width="1" height="24" fill="#ef5350"/>
<rect x="1264" y="370" width="5" height="8" fill="#ef5350"/>
<rect x="1273" y="325" width="1" height="57" fill="#26a69a"/>
<rect x="1271" y="339" width="5" height="38" fill="#26a69a"/>
<rect x="1280" y="333" width="1" height="39" fill="#ef5350"/>
<rect x="1278" y="337" width="5" height="33" fill="#ef5350"/>
<rect x="1287" y="368" width="1" height="47" fill="#ef5350"/>
<rect x="1285" y="370" width="5" height="35" fill="#ef5350"/>
<rect x="1294" y="387" width="1" height="42" fill="#ef5350"/>
<rect x="1292" y="404" width="5" height="23" fill="#ef5350"/>
<rect x="1301" y="402" width="1" height="37" fill="#26a69a"/>
<rect x="1299" y="423" width="5" height="4" fill="#26a69a"/>
<rect x="1308" y="410" width="1" height="17" fill="#ef5350"/>
<rect x="1306" y="422" width="5" height="4" fill="#ef5350"/>
</g>
<text x="1084.6" y="535.7" font-size="24" font-weight="bold" fill="#ff9800" textLength="99.5" lengthAdjust="spacingAndGlyphs">Fake-out</text>
<line x1="1755.5" y1="44" x2="1755.5" y2="731" stroke="#dfe1e5" stroke-width="1" shape-rendering="crispEdges"/>
<g font-size="12" fill="#131722">
<line x1="1755.5" y1="684.5" x2="1759.5" y2="684.5" stroke="#dfe1e5" shape-rendering="crispEdges"/>
<text x="1764" y="688.9" textLength="48.4" lengthAdjust="spacingAndGlyphs">23000.00</text>
<line x1="1755.5" y1="654.5" x2="1759.5" y2="654.5" stroke="#dfe1e5" shape-rendering="crispEdges"/>
<text x="1764" y="658.9" textLength="48.4" lengthAdjust="spacingAndGlyphs">24000.00</text>
<line x1="1755.5" y1="624.5" x2="1759.5" y2="624.5" stroke="#dfe1e5" shape-rendering="crispEdges"/>
<text x="1764" y="628.9" textLength="48.4" lengthAdjust="spacingAndGlyphs">25000.00</text>
<line x1="1755.5" y1="594.5" x2="1759.5" y2="594.5" stroke="#dfe1e5" shape-rendering="crispEdges"/>
<text x="1764" y="598.9" textLength="48.4" lengthAdjust="spacingAndGlyphs">26000.00</text>
<line x1="1755.5" y1="563.5" x2="1759.5" y2="563.5" stroke="#dfe1e5" shape-rendering="crispEdges"/>
<text x="1764" y="567.9" textLength="48.4" lengthAdjust="spacingAndGlyphs">27000.00</text>
<line x1="1755.5" y1="533.5" x2="1759.5" y2="533.5" stroke="#dfe1e5" shape-rendering="crispEdges"/>
<text x="1764" y="537.9" textLength="48.4" lengthAdjust="spacingAndGlyphs">28000.00</text>
<line x1="1755.5" y1="503.5" x2="1759.5" y2="503.5" stroke="#dfe1e5" shape-rendering="crispEdges"/>
<text x="1764" y="507.9" textLength="48.4" lengthAdjust="spacingAndGlyphs">29000.00</text>
<line x1="1755.5" y1="473.5" x2="1759.5" y2="473.5" stroke="#dfe1e5" shape-rendering="crispEdges"/>
<text x="1764" y="477.9" textLength="48.4" lengthAdjust="spacingAndGlyphs">30000.00</text>
<line x1="1755.5" y1="442.5" x2="1759.5" y2="442.5" stroke="#dfe1e5" shape-rendering="crispEdges"/>
<text x="1764" y="446.9" textLength="48.4" lengthAdjust="spacingAndGlyphs">31000.00</text>
<line x1="1755.5" y1="412.5" x2="1759.5" y2="412.5" stroke="#dfe1e5" shape-rendering="crispEdges"/>
<text x="1764" y="416.9" textLength="48.4" lengthAdjust="spacingAndGlyphs">32000.00</text>
<line x1="1755.5" y1="382.5" x2="1759.5" y2="382.5" stroke="#dfe1e5" shape-rendering="crispEdges"/>
<text x="1764" y="386.9" textLength="48.4" lengthAdjust="spacingAndGlyphs">33000.00</text>
<line x1="1755.5" y1="352.5" x2="1759.5" y2="352.5" stroke="#dfe1e5" shape-rendering="crispEdges"/>
<text x="1764" y="356.9" textLength="48.4" lengthAdjust="spacingAndGlyphs">34000.00</text>
<line x1="1755.5" y1="322.5" x2="1759.5" y2="322.5" stroke="#dfe1e5" shape-rendering="crispEdges"/>
<text x="1764" y="326.9" textLength="48.4" lengthAdjust="spacingAndGlyphs">35000.00</text>
<line x1="1755.5" y1="291.5" x2="1759.5" y2="291.5" stroke="#dfe1e5" shape-rendering="crispEdges"/>
<text x="1764" y="295.9" textLength="48.4" lengthAdjust="spacingAndGlyphs">36000.00</text>
<line x1="1755.5" y1="261.5" x2="1759.5" y2="261.5" stroke="#dfe1e5" shape-rendering="crispEdges"/>
<text x="1764" y="265.9" textLength="48.4" lengthAdjust="spacingAndGlyphs">37000.00</text>
<line x1="1755.5" y1="231.5" x2="1759.5" y2="231.5" stroke="#dfe1e5" shape-rendering="crispEdges"/>
<text x="1764" y="235.9" textLength="48.4" lengthAdjust="spacingAndGlyphs">38000.00</text>
<line x1="1755.5" y1="201.5" x2="1759.5" y2="201.5" stroke="#dfe1e5" shape-rendering="crispEdges"/>
<text x="1764" y="205.9" textLength="48.4" lengthAdjust="spacingAndGlyphs">39000.00</text>
<line x1="1755.5" y1="170.5" x2="1759.5" y2="170.5" stroke="#dfe1e5" shape-rendering="crispEdges"/>
<text x="1764" y="174.9" textLength="48.4" lengthAdjust="spacingAndGlyphs">40000.00</text>
<line x1="1755.5" y1="140.5" x2="1759.5" y2="140.5" stroke="#dfe1e5" shape-rendering="crispEdges"/>
<text x="1764" y="144.9" textLength="48.4" lengthAdjust="spacingAndGlyphs">41000.00</text>
<line x1="1755.5" y1="110.5" x2="1759.5" y2="110.5" stroke="#dfe1e5" shape-rendering="crispEdges"/>
<text x="1764" y="114.9" textLength="48.4" lengthAdjust="spacingAndGlyphs">42000.00</text>
<line x1="1755.5" y1="80.5" x2="1759.5" y2="80.5" stroke="#dfe1e5" shape-rendering="crispEdges"/>
<text x="1764" y="84.9" textLength="48.4" lengthAdjust="spacingAndGlyphs">43000.00</text>
<line x1="1755.5" y1="49.5" x2="1759.5" y2="49.5" stroke="#dfe1e5" shape-rendering="crispEdges"/>
<text x="1764" y="53.9" textLength="48.4" lengthAdjust="spacingAndGlyphs">44000.00</text>
</g>
<rect x="1772.5" y="50.5" width="31" height="18.5" rx="3.5" fill="#fff" stroke="#d9dbe0"/>
<text x="1778" y="63.2" font-size="12" fill="#131722" textLength="20.4" lengthAdjust="spacingAndGlyphs">USD</text>
<rect x="1755" y="161" width="66" height="19" fill="#ff0000" shape-rendering="crispEdges"/>
<rect x="1755" y="170" width="4" height="1" fill="#fff" shape-rendering="crispEdges"/>
<text x="1764" y="174.9" font-size="12" font-weight="bold" fill="#fff" textLength="48.4" lengthAdjust="spacingAndGlyphs">40000.00</text>
<rect x="1755" y="416" width="66" height="19" fill="#ef5350" shape-rendering="crispEdges"/>
<rect x="1755" y="425" width="4" height="1" fill="#fff" shape-rendering="crispEdges"/>
<text x="1764" y="429.9" font-size="12" font-weight="bold" fill="#fff" textLength="48.4" lengthAdjust="spacingAndGlyphs">31591.93</text>
<rect x="1755" y="453" width="66" height="19" fill="#ff0000" shape-rendering="crispEdges"/>
<rect x="1755" y="462" width="4" height="1" fill="#fff" shape-rendering="crispEdges"/>
<text x="1764" y="466.9" font-size="12" font-weight="bold" fill="#fff" textLength="48.4" lengthAdjust="spacingAndGlyphs">31500.00</text>
<rect x="1762" y="436" width="59" height="19" fill="#ef5350" shape-rendering="crispEdges"/>
<text x="1766" y="449.9" font-size="12" font-weight="bold" fill="#fff" textLength="46.4" lengthAdjust="spacingAndGlyphs">02:35:45</text>
<rect x="1755" y="683" width="36" height="19" fill="#ef5350" shape-rendering="crispEdges"/>
<rect x="1755" y="692" width="4" height="1" fill="#fff" shape-rendering="crispEdges"/>
<text x="1764" y="696.9" font-size="12" font-weight="bold" fill="#fff" textLength="18.4" lengthAdjust="spacingAndGlyphs">523</text>
<line x1="7" y1="702.5" x2="1755.5" y2="702.5" stroke="#e6e8eb" shape-rendering="crispEdges"/>
<g font-size="12" fill="#131722" text-anchor="middle">
<line x1="97.5" y1="703" x2="97.5" y2="707" stroke="#dfe1e5" shape-rendering="crispEdges"/>
<text x="97.4" y="722">28</text>
<line x1="179.5" y1="703" x2="179.5" y2="707" stroke="#dfe1e5" shape-rendering="crispEdges"/>
<text x="180.0" y="722">30</text>
<line x1="262.5" y1="703" x2="262.5" y2="707" stroke="#dfe1e5" shape-rendering="crispEdges"/>
<text x="262.5" y="722" font-weight="bold">2021</text>
<line x1="386.5" y1="703" x2="386.5" y2="707" stroke="#dfe1e5" shape-rendering="crispEdges"/>
<text x="386.4" y="722">4</text>
<line x1="468.5" y1="703" x2="468.5" y2="707" stroke="#dfe1e5" shape-rendering="crispEdges"/>
<text x="468.9" y="722">6</text>
<line x1="551.5" y1="703" x2="551.5" y2="707" stroke="#dfe1e5" shape-rendering="crispEdges"/>
<text x="551.5" y="722">8</text>
<line x1="675.5" y1="703" x2="675.5" y2="707" stroke="#dfe1e5" shape-rendering="crispEdges"/>
<text x="675.3" y="722">11</text>
<line x1="757.5" y1="703" x2="757.5" y2="707" stroke="#dfe1e5" shape-rendering="crispEdges"/>
<text x="757.9" y="722">13</text>
<line x1="840.5" y1="703" x2="840.5" y2="707" stroke="#dfe1e5" shape-rendering="crispEdges"/>
<text x="840.4" y="722">15</text>
<line x1="964.5" y1="703" x2="964.5" y2="707" stroke="#dfe1e5" shape-rendering="crispEdges"/>
<text x="964.3" y="722">18</text>
<line x1="1046.5" y1="703" x2="1046.5" y2="707" stroke="#dfe1e5" shape-rendering="crispEdges"/>
<text x="1046.8" y="722">20</text>
<line x1="1129.5" y1="703" x2="1129.5" y2="707" stroke="#dfe1e5" shape-rendering="crispEdges"/>
<text x="1129.4" y="722">22</text>
<line x1="1253.5" y1="703" x2="1253.5" y2="707" stroke="#dfe1e5" shape-rendering="crispEdges"/>
<text x="1253.2" y="722">25</text>
<line x1="1335.5" y1="703" x2="1335.5" y2="707" stroke="#dfe1e5" shape-rendering="crispEdges"/>
<text x="1335.8" y="722">27</text>
<line x1="1418.5" y1="703" x2="1418.5" y2="707" stroke="#dfe1e5" shape-rendering="crispEdges"/>
<text x="1418.3" y="722">29</text>
<line x1="1542.5" y1="703" x2="1542.5" y2="707" stroke="#dfe1e5" shape-rendering="crispEdges"/>
<text x="1542.1" y="722">Feb</text>
<line x1="1624.5" y1="703" x2="1624.5" y2="707" stroke="#dfe1e5" shape-rendering="crispEdges"/>
<text x="1624.7" y="722">3</text>
<line x1="1707.5" y1="703" x2="1707.5" y2="707" stroke="#dfe1e5" shape-rendering="crispEdges"/>
<text x="1707.3" y="722">5</text>
</g>
<rect x="6.5" y="43.5" width="1815" height="688" fill="none" stroke="#000" stroke-width="1" shape-rendering="crispEdges"/>
<g font-size="12" fill="#131722">
<text x="6.7" y="17" font-weight="bold" textLength="73" lengthAdjust="spacingAndGlyphs">CryptoTicker</text>
<text x="84.8" y="17" textLength="349.4" lengthAdjust="spacingAndGlyphs">published on TradingView.com, January 26, 2021 10:24:16 CET</text>
<text x="6.7" y="33.3" font-weight="bold" textLength="137" lengthAdjust="spacingAndGlyphs">BITSTAMP:BTCUSD, 240</text>
<text x="151" y="33.3" textLength="51" lengthAdjust="spacingAndGlyphs">31591.93</text>
<path d="M206 25.5h10l-5 9z" fill="#ef5350"/>
<text x="220.5" y="33.3" textLength="98" lengthAdjust="spacingAndGlyphs">−669.29 (−2.07%)</text>
<text x="323.3" y="33.3" font-weight="bold" textLength="12.5" lengthAdjust="spacingAndGlyphs">O:</text>
<text x="337.5" y="33.3" fill="#ef5350" textLength="52.6" lengthAdjust="spacingAndGlyphs">31663.10</text>
<text x="394.5" y="33.3" font-weight="bold" textLength="12" lengthAdjust="spacingAndGlyphs">H:</text>
<text x="408" y="33.3" fill="#ef5350" textLength="52.6" lengthAdjust="spacingAndGlyphs">32061.35</text>
<text x="465.4" y="33.3" font-weight="bold" textLength="9.5" lengthAdjust="spacingAndGlyphs">L:</text>
<text x="476" y="33.3" fill="#ef5350" textLength="52.6" lengthAdjust="spacingAndGlyphs">31529.63</text>
<text x="533.2" y="33.3" font-weight="bold" textLength="11" lengthAdjust="spacingAndGlyphs">C:</text>
<text x="545" y="33.3" fill="#ef5350" textLength="52.6" lengthAdjust="spacingAndGlyphs">31591.93</text>
<text x="15.4" y="64.7" font-weight="bold" textLength="203.6" lengthAdjust="spacingAndGlyphs">Bitcoin / U.S. Dollar, 4h, BITSTAMP</text>
<text x="15.4" y="81.8" textLength="17" lengthAdjust="spacingAndGlyphs">Vol</text>
</g>
<g><g fill="#2196f3"><circle cx="10.5" cy="752.3" r="4.6"/><circle cx="16.7" cy="747.5" r="5.7"/><circle cx="27" cy="751.9" r="5.1"/><path d="M20 746.3h7.8l2 2.5v8.2H9L6.5 754.5 10 750z"/></g><path d="M7 755 15.4 747.1l6.6 6.2 6.2-6.4" fill="none" stroke="#fff" stroke-width="0.95"/><rect x="20.2" y="751.7" width="3.6" height="3.3" rx="0.8" fill="#fff"/><path d="M13.9 748.6 15.4 746.3l1.6 2.4z" fill="#fff"/></g>
<text x="34.2" y="753.8" font-size="12.5" fill="#131722" textLength="70.4" lengthAdjust="spacingAndGlyphs">TradingView</text>
</svg></body></html>
